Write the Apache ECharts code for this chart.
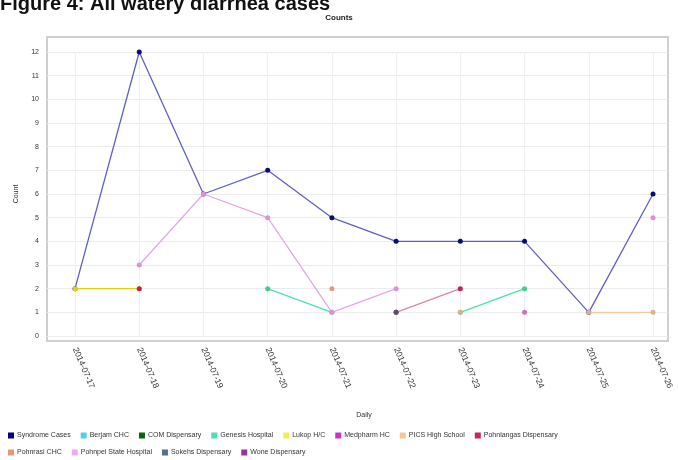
<!DOCTYPE html>
<html><head><meta charset="utf-8">
<script src="https://cdn.jsdelivr.net/npm/echarts@6/dist/echarts.min.js"></script>
<style>html,body{margin:0;padding:0;background:#fff}#c{width:678px;height:460px}</style>
</head><body><div id="c"></div>
<script>
const categories = ['2014-07-17','2014-07-18','2014-07-19','2014-07-20','2014-07-21','2014-07-22','2014-07-23','2014-07-24','2014-07-25','2014-07-26'];
const yTicks = [0,1,2,3,4,5,6,7,8,9,10,11,12];
const seriesNames = ['Syndrome Cases','Berjam CHC','COM Dispensary','Genesis Hospital','Lukop H/C','Medpharm HC','PICS High School','Pohnlangas Dispensary','Pohnrasi CHC','Pohnpei State Hospital','Sokehs Dispensary','Wone Dispensary'];
const syndromeCases   = [2,12,6,7,5,4,4,4,1,6];
const berjamCHC       = [null,null,null,null,null,null,null,null,null,null];
const comDispensary   = [null,null,null,null,null,null,null,null,null,null];
const genesisHospital = [null,null,null,2,1,null,1,2,null,null];
const lukopHC         = [2,2,null,null,null,null,null,null,null,null];
const medpharmHC      = [null,null,null,null,null,null,null,1,null,null];
const picsHighSchool  = [null,null,null,null,null,null,1,null,1,1];
const pohnlangas      = [null,2,null,null,null,1,2,null,null,null];
const pohnrasiCHC     = [null,null,null,null,2,null,null,null,null,null];
const pohnpeiState    = [null,3,6,5,1,2,null,null,null,5];
const sokehs          = [null,null,null,null,null,1,null,null,null,null];
const wone            = [null,null,null,null,null,null,null,null,null,null];
const allData = [syndromeCases,berjamCHC,comDispensary,genesisHospital,lukopHC,medpharmHC,picsHighSchool,pohnlangas,pohnrasiCHC,pohnpeiState,sokehs,wone];
const lineColors   = ['#5f5fc8','#55ccee','#1a6e1a','#4fe0a8','#e8cc10','#d040d0','#f2c99e','#d78aa0','#e8a080','#e2a8e6','#5a6a80','#993399'];
const markerColors = ['#0a0a78','#55ccee','#1a6e1a','#3ccf8e','#e0d020','#d070c8','#d8b48e','#c81e50','#d8a078','#e090d0','#4a5668','#993399'];
const legendColors = ['#000080','#55ccee','#106010','#55ddaa','#eeee55','#cc33cc','#f5c89a','#cc2255','#e8957a','#f0a8f0','#5a6e8c','#993399'];

const chart = echarts.init(document.getElementById('c'));
const series = allData.map((d,i)=>({
  name: seriesNames[i], type:'line', xAxisIndex:1, yAxisIndex:1, data:d,
  symbol:'circle', symbolSize:5, showSymbol:true, connectNulls:false,
  lineStyle:{width:1.3,color:lineColors[i]},
  itemStyle:{color:markerColors[i]},
  emphasis:{disabled:true}, animation:false, z:2+i
}));
chart.setOption({
  animation:false,
  title:[
    {text:'Figure 4: All watery diarrhea cases',left:0,top:-6,padding:0,textStyle:{fontFamily:'Liberation Sans, Arial',fontWeight:'bold',fontSize:20,color:'#111'}},
    {text:'Counts',left:'center',top:14,padding:0,textStyle:{fontFamily:'Liberation Sans, Arial',fontWeight:'bold',fontSize:8,color:'#222'}}
  ],
  graphic:[{type:'rect',shape:{x:47,y:37,width:621,height:304},style:{fill:'#fff',stroke:'#cfcfcf',lineWidth:2},z:-10,silent:true}],
  legend:{
    left:3, top:427, width:570, itemWidth:6, itemHeight:6, itemGap:10, icon:'rect',
    textStyle:{fontFamily:'Liberation Sans, Arial',fontSize:7,color:'#333',padding:[0,0,0,-2]},
    data: seriesNames.map((n,i)=>({name:n,itemStyle:{color:legendColors[i]}}))
  },
  grid:[
    {left:47,right:10,top:52,bottom:124,show:false},
    {left:75,right:25,top:52,bottom:124,show:false}
  ],
  xAxis:[
    {type:'value',gridIndex:0,show:false,min:0,max:1},
    {type:'category',gridIndex:1,data:categories,boundaryGap:false,
     axisLine:{show:false},axisTick:{show:false},
     axisLabel:{rotate:-67,fontSize:8.5,color:'#333',margin:12,fontFamily:'Liberation Sans, Arial',interval:0},
     splitLine:{show:true,lineStyle:{color:'#f0f0f0',width:1}},
     name:'Daily',nameLocation:'middle',nameGap:76,nameTextStyle:{fontSize:7,color:'#333',fontFamily:'Liberation Sans, Arial'}}
  ],
  yAxis:[
    {type:'value',gridIndex:0,min:yTicks[0],max:yTicks[yTicks.length-1],interval:1,
     axisLine:{show:false},axisTick:{show:false},
     axisLabel:{fontSize:7,color:'#333',margin:8,fontFamily:'Liberation Sans, Arial'},
     splitLine:{show:true,lineStyle:{color:'#ececec',width:1}},
     name:'Count',nameLocation:'middle',nameGap:27,nameRotate:90,nameTextStyle:{fontSize:7,color:'#333',fontFamily:'Liberation Sans, Arial'}},
    {type:'value',gridIndex:1,min:yTicks[0],max:yTicks[yTicks.length-1],interval:1,show:false,splitLine:{show:false}}
  ],
  series: series
});
</script></body></html>
